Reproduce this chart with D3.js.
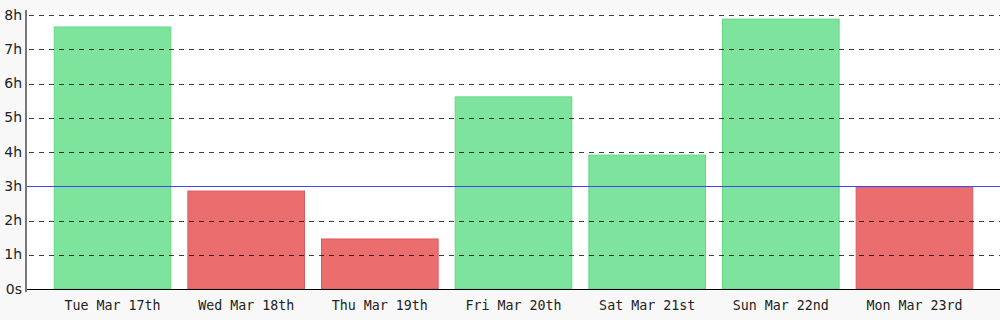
<!DOCTYPE html>
<html><head><meta charset="utf-8">
<script src="https://cdn.jsdelivr.net/npm/d3@7"></script>
<style>
html,body{margin:0;padding:0;background:#f8f8f8;}
svg{display:block;}
</style></head>
<body>
<svg id="c" width="1000" height="320"></svg>
<script>
const days = ["Tue Mar 17th","Wed Mar 18th","Thu Mar 19th","Fri Mar 20th","Sat Mar 21st","Sun Mar 22nd","Mon Mar 23rd"];
const hours = [7.65, 2.86, 1.46, 5.61, 3.91, 7.88, 2.98];
const goal = [3];
const yTicks = [0,1,2,3,4,5,6,7,8];
const yTickLabels = ["0s","1h","2h","3h","4h","5h","6h","7h","8h"];

(function(){
const svg = d3.select("#c");
const mLeft = 27, mRight = 1000, mTop = 10, mBottom = 289;
const x = d3.scaleBand().domain(days).range([mLeft, mRight]).paddingInner(0.12).paddingOuter(0.2);
const y = d3.scaleLinear().domain([0, 8]).range([mBottom, 15]);

svg.append("rect").attr("x", mLeft).attr("y", mTop).attr("width", mRight-mLeft).attr("height", mBottom-mTop+1).attr("fill", "#fff");

svg.append("g").selectAll("rect").data(days).join("rect")
  .attr("x", d => x(d)+0.5)
  .attr("y", (d,i) => y(hours[i]))
  .attr("width", x.bandwidth()-1)
  .attr("height", (d,i) => mBottom - y(hours[i]))
  .attr("fill", (d,i) => hours[i] >= goal[0] ? "#7ee39d" : "#eb6e6e")
  .attr("stroke", (d,i) => hours[i] >= goal[0] ? "#62d983" : "#dc5a5e")
  .attr("stroke-width", 1);

svg.append("g").selectAll("line").data(yTicks.filter(t => t>0 && t!==goal[0])).join("line")
  .attr("x1", mLeft+2).attr("x2", mRight)
  .attr("y1", d => Math.round(y(d))+0.5).attr("y2", d => Math.round(y(d))+0.5)
  .attr("stroke", "#000").attr("stroke-opacity", 0.75)
  .attr("stroke-dasharray", "5,5");

svg.append("line").attr("x1", mLeft).attr("x2", mRight)
  .attr("y1", Math.round(y(goal[0]))+0.5).attr("y2", Math.round(y(goal[0]))+0.5)
  .attr("stroke", "#4444ff").attr("stroke-width", 1.2);

const yAxis = d3.axisLeft(y).tickValues(yTicks).tickFormat((d,i) => yTickLabels[i]).tickSize(0).tickPadding(5);
const gy = svg.append("g").attr("transform", `translate(${mLeft},0)`).call(yAxis);
gy.select(".domain").remove();
gy.selectAll(".tick line").remove();
gy.selectAll("text").attr("font-family", "DejaVu Sans").attr("font-size", 14).attr("fill", "#222").attr("dy", "0.3em");
svg.append("line").attr("x1", mLeft-1).attr("x2", mLeft-1).attr("y1", mTop).attr("y2", 292)
  .attr("stroke", "#777").attr("stroke-width", 2);

svg.append("line").attr("x1", mLeft).attr("x2", mRight).attr("y1", mBottom+0.5).attr("y2", mBottom+0.5).attr("stroke", "#000");
const gx = svg.append("g").attr("transform", `translate(0,${mBottom})`).call(d3.axisBottom(x).tickSize(0).tickPadding(12));
gx.select(".domain").remove();
gx.selectAll("text").attr("font-family", "DejaVu Sans Mono").attr("font-size", 13.3).attr("fill", "#222");
})();
</script>
</body></html>
